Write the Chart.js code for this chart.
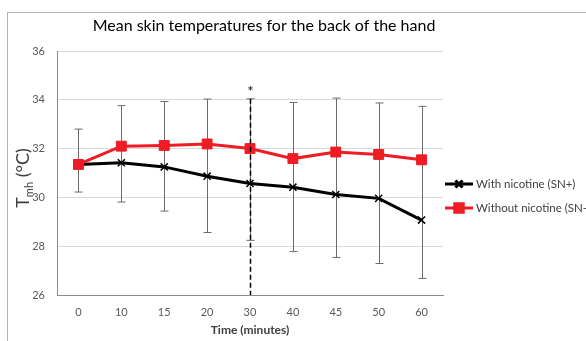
<!DOCTYPE html>
<html>
<head>
<meta charset="utf-8">
<script src="https://cdn.jsdelivr.net/npm/chart.js@4/dist/chart.umd.min.js"></script>
<style>
  html, body { margin: 0; padding: 0; background: #fff; overflow: hidden; width: 586px; height: 341px; }
  #frame { position: absolute; left: 7px; top: 12px; border-left: 1px solid #b4b4b4; border-top: 1px solid #b4b4b4; }
  canvas { display: block; }
</style>
</head>
<body>
<div id="frame"><canvas id="myChart" width="620" height="330"></canvas></div>
<script>
var timeLabels = ['0', '10', '15', '20', '30', '40', '45', '50', '60'];
var withNicotine = [31.35, 31.42, 31.25, 30.87, 30.57, 30.42, 30.12, 29.96, 29.07];
var withoutNicotine = [31.35, 32.10, 32.13, 32.19, 32.00, 31.59, 31.86, 31.76, 31.54];
// error bars: upper whisker from the SN- series, lower whisker from the SN+ series
var withoutSD = [1.45, 1.66, 1.80, 1.84, 2.04, 2.30, 2.21, 2.11, 2.19];
var withSD = [1.13, 1.61, 1.81, 2.31, 2.33, 2.64, 2.58, 2.67, 2.39];
var yTicks = [26, 28, 30, 32, 34, 36];
var seriesNames = ['With nicotine (SN+)', 'Without nicotine (SN-)'];
var markedTime = '30';

var chartTitle = 'Mean skin temperatures for the back of the hand';
var font = 'Lato, "Open Sans", sans-serif';

var extras = {
  id: 'extras',
  beforeDatasetsDraw: function(chart) {
    var c = chart.ctx, x = chart.scales.x, y = chart.scales.y;
    c.save();
    c.strokeStyle = '#6b6b6b';
    c.lineWidth = 1;
    timeLabels.forEach(function(t, i) {
      var px = Math.round(x.getPixelForValue(i)) + 0.5;
      var top = y.getPixelForValue(withoutNicotine[i] + withoutSD[i]);
      var bot = y.getPixelForValue(withNicotine[i] - withSD[i]);
      c.beginPath();
      c.moveTo(px, top); c.lineTo(px, bot);
      c.moveTo(px - 4, top); c.lineTo(px + 4, top);
      c.moveTo(px - 4, bot); c.lineTo(px + 4, bot);
      c.stroke();
    });
    c.restore();
  },
  afterDatasetsDraw: function(chart) {
    var c = chart.ctx, x = chart.scales.x, y = chart.scales.y, area = chart.chartArea;
    c.save();
    // dashed marker line
    var mi = timeLabels.indexOf(markedTime);
    var mx = Math.round(x.getPixelForValue(mi)) + 0.5;
    var mtop = y.getPixelForValue(withoutNicotine[mi] + withoutSD[mi]);
    c.strokeStyle = '#000';
    c.lineWidth = 1.5;
    c.setLineDash([5, 3]);
    c.beginPath();
    c.moveTo(mx, mtop); c.lineTo(mx, area.bottom);
    c.stroke();
    c.setLineDash([]);
    c.fillStyle = '#333';
    c.font = 'bold 14px ' + font;
    c.textAlign = 'center';
    c.textBaseline = 'middle';
    c.fillText('*', mx, mtop - 7);

    // title
    c.fillStyle = '#000';
    c.font = '16px ' + font;
    c.fillText(chartTitle, 256, 13);

    // y axis title with subscript
    c.save();
    c.translate(15, 165);
    c.rotate(-Math.PI / 2);
    c.fillStyle = '#404040';
    c.textAlign = 'left';
    c.textBaseline = 'alphabetic';
    c.font = '18px ' + font;
    var wT = c.measureText('T').width;
    var wR = c.measureText(' (\u00B0C)').width;
    c.font = '11px ' + font;
    var wS = c.measureText('mh').width;
    var x0 = -(wT + wS + wR) / 2;
    c.font = '18px ' + font;
    c.fillText('T', x0, 6);
    c.font = '11px ' + font;
    c.fillText('mh', x0 + wT, 10);
    c.font = '18px ' + font;
    c.fillText(' (\u00B0C)', x0 + wT + wS, 6);
    c.restore();

    // legend
    var styles = [
      { color: '#000', style: 'crossRot', r: 5, bw: 1.5 },
      { color: '#ee1c24', style: 'rect', r: 6, bw: 1 }
    ];
    var ly = [171, 195];
    seriesNames.forEach(function(name, i) {
      var s = styles[i];
      c.strokeStyle = s.color;
      c.lineWidth = 3;
      c.beginPath();
      c.moveTo(437, ly[i]); c.lineTo(465, ly[i]);
      c.stroke();
      Chart.helpers.drawPoint(c, { pointStyle: s.style, radius: s.r, borderWidth: s.bw }, 451, ly[i]);
      c.fillStyle = s.color;
      if (s.style === 'rect') {
        c.fillRect(451 - 4, ly[i] - 4, 8, 8);
      }
      c.fillStyle = '#404040';
      c.font = '11.5px ' + font;
      c.textAlign = 'left';
      c.textBaseline = 'middle';
      c.fillText(name, 468, ly[i]);
    });
    c.restore();
  }
};

var ctx = document.getElementById('myChart');
var myChart = new Chart(ctx, {
  type: 'line',
  data: {
    labels: timeLabels,
    datasets: [{
      label: seriesNames[0],
      data: withNicotine,
      borderColor: '#000',
      backgroundColor: '#000',
      borderWidth: 3,
      pointStyle: 'crossRot',
      pointRadius: 5,
      pointBorderWidth: 1.5,
      pointBorderColor: '#000',
      order: 1,
      tension: 0
    }, {
      label: seriesNames[1],
      data: withoutNicotine,
      borderColor: '#ee1c24',
      backgroundColor: '#ee1c24',
      borderWidth: 3,
      pointStyle: 'rect',
      pointRadius: 7,
      pointBorderWidth: 1,
      pointBorderColor: '#ee1c24',
      order: 0,
      tension: 0
    }]
  },
  options: {
    responsive: false,
    devicePixelRatio: 1,
    animation: false,
    layout: { padding: { left: 19, right: 185, top: 38, bottom: 0 } },
    plugins: {
      legend: { display: false },
      title: { display: false },
      tooltip: { enabled: false }
    },
    scales: {
      x: {
        offset: true,
        afterFit: function(s) { s.height = 48; },
        grid: { display: false, drawTicks: false },
        border: { color: '#8c8c8c', width: 1 },
        ticks: { color: '#595959', font: { family: font, size: 11 }, padding: 11 },
        title: { display: true, text: 'Time (minutes)', color: '#404040', font: { family: font, size: 12, weight: 'bold' }, padding: { top: 4, bottom: 6 } }
      },
      y: {
        min: yTicks[0],
        max: yTicks[yTicks.length - 1],
        afterFit: function(s) { s.width = 30; },
        afterBuildTicks: function(s) { s.ticks = yTicks.map(function(v) { return { value: v }; }); },
        grid: { color: '#d9d9d9', drawTicks: false },
        border: { color: '#8c8c8c', width: 1 },
        ticks: { color: '#595959', font: { family: font, size: 11 }, padding: 12 }
      }
    }
  },
  plugins: [extras]
});
</script>
</body>
</html>
